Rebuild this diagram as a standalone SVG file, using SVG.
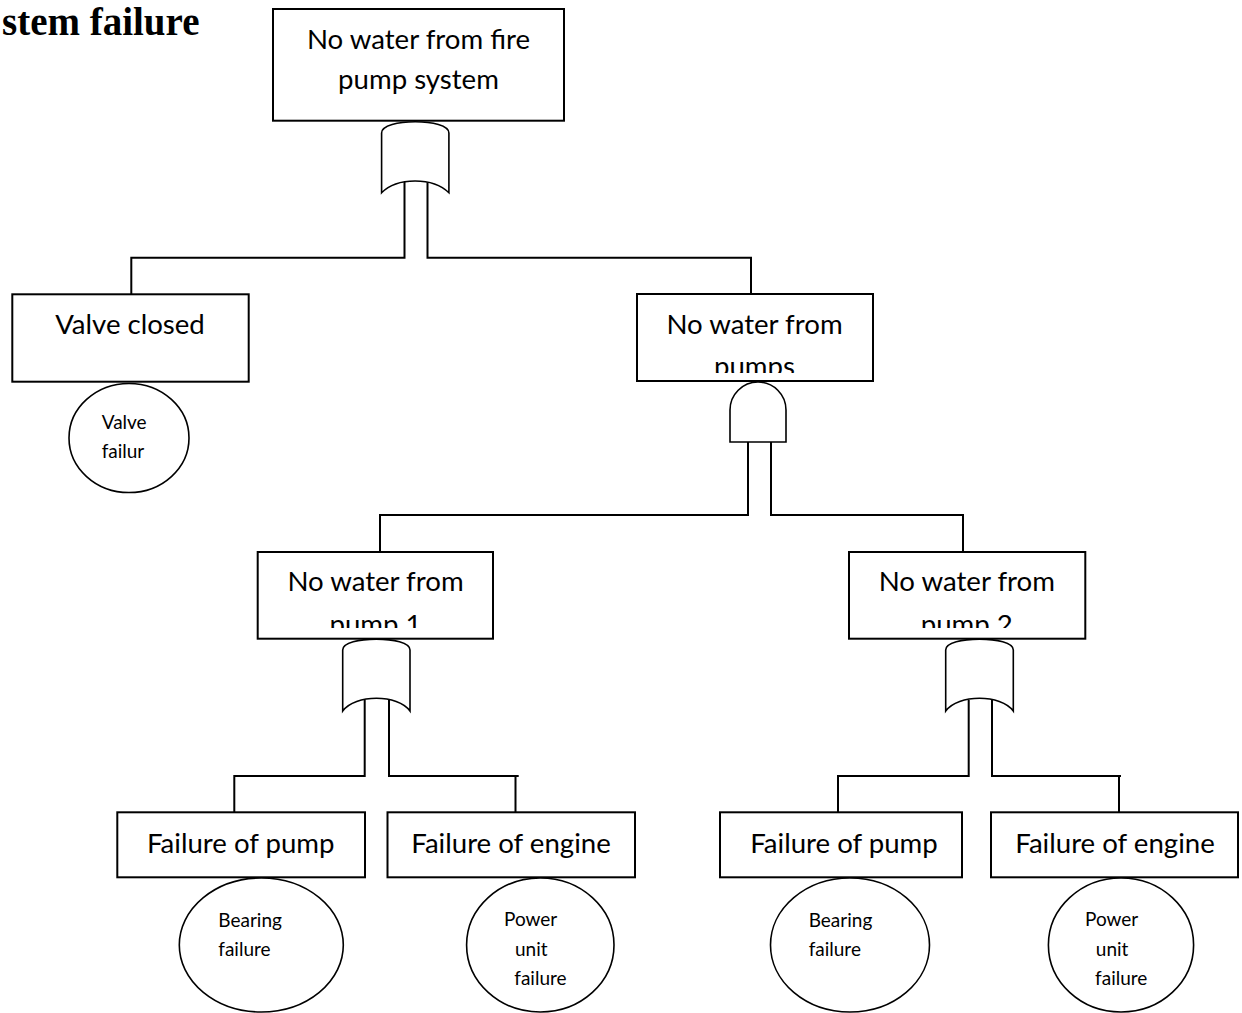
<svg xmlns="http://www.w3.org/2000/svg" width="1242" height="1013" viewBox="0 0 1242 1013">
<style>
.box{fill:#fff;stroke:#000;stroke-width:2}
.gate{fill:#fff;stroke:#000;stroke-width:1.6}
.ev{fill:#fff;stroke:#000;stroke-width:1.6}
.con{fill:none;stroke:#000;stroke-width:2}
.t{font-family:Lato,"Liberation Sans",sans-serif;font-size:27.6px;fill:#000;text-anchor:middle}
.s{font-family:Lato,"Liberation Sans",sans-serif;font-size:19px;fill:#000}
.title{font-family:"Liberation Serif","Times New Roman",serif;font-size:39px;font-weight:bold;fill:#000}
</style>
<defs>
<clipPath id="cPumps"><rect x="637" y="294" width="236" height="79"/></clipPath>
<clipPath id="cP1"><rect x="258" y="552" width="235" height="76"/></clipPath>
<clipPath id="cP2"><rect x="849" y="552" width="236" height="76"/></clipPath>
</defs>
<rect width="1242" height="1013" fill="#fff"/>
<text class="title" x="2" y="35">stem failure</text>

<g id="connectors">
<path class="con" d="M404.5,181 V257.7 H131.3 V294.5"/>
<path class="con" d="M427.5,181 V257.7 H751 V294"/>
<path class="con" d="M748,442 V515 H380 V552"/>
<path class="con" d="M771,442 V515 H963 V552"/>
<path class="con" d="M364.7,700 V776 H234.3 V812"/>
<path class="con" d="M389,700 V776 H518.7 M515.5,776 V812"/>
<path class="con" d="M968.7,700 V776 H838 V812"/>
<path class="con" d="M992,700 V776 H1121 M1119,776 V812"/>
</g>

<g id="top-event">
<rect class="box" x="273" y="9" width="291" height="111.7"/>
<text class="t" x="418.5" y="48.5">No water from fire</text>
<text class="t" x="418.5" y="89">pump system</text>
</g>
<g id="gate-or-top">
<path class="gate" d="M381.6,192.7 V133 C381.6,118 448.9,118 448.9,133 V192.7 C433,177 397,177 381.6,192.7 Z"/>
</g>

<g id="valve-closed">
<rect class="box" x="12.3" y="294.3" width="236.4" height="87.4"/>
<text class="t" x="130" y="333.5">Valve closed</text>
</g>
<g id="valve-failure">
<ellipse class="ev" cx="129" cy="438" rx="60" ry="54.5"/>
<text class="s" x="101.7" y="428.7">Valve</text>
<text class="s" x="101.7" y="458.3">failur</text>
</g>

<g id="no-water-pumps">
<rect class="box" x="637" y="294" width="236" height="87"/>
<g clip-path="url(#cPumps)">
<text class="t" x="754.5" y="333.5">No water from</text>
<text class="t" x="754.5" y="376">pumps</text>
</g>
</g>
<g id="gate-and">
<path class="gate" d="M730,442 V410 A28,28 0 0 1 786,410 V442 Z"/>
</g>

<g id="no-water-pump1">
<rect class="box" x="257.7" y="552" width="235.3" height="86.7"/>
<g clip-path="url(#cP1)">
<text class="t" x="375.5" y="591">No water from</text>
<text class="t" x="375.5" y="634">pump 1</text>
</g>
</g>
<g id="gate-or-pump1">
<path class="gate" d="M342.7,711 V650 C342.7,635.5 410,635.5 410,650 V711 C398,694 355,694 342.7,711 Z"/>
</g>

<g id="no-water-pump2">
<rect class="box" x="849" y="552" width="236.3" height="86.7"/>
<g clip-path="url(#cP2)">
<text class="t" x="966.8" y="591">No water from</text>
<text class="t" x="966.8" y="634">pump 2</text>
</g>
</g>
<g id="gate-or-pump2">
<path class="gate" d="M945.7,711 V650 C945.7,635.5 1013.3,635.5 1013.3,650 V711 C1001,694 958,694 945.7,711 Z"/>
</g>

<g id="failure-pump1">
<rect class="box" x="117.3" y="812.3" width="247.7" height="65"/>
<text class="t" x="240.7" y="852.5">Failure of pump</text>
</g>
<g id="failure-engine1">
<rect class="box" x="387.5" y="812.3" width="247.5" height="65"/>
<text class="t" x="511" y="852.5">Failure of engine</text>
</g>
<g id="failure-pump2">
<rect class="box" x="720" y="812.3" width="242" height="65"/>
<text class="t" x="844" y="852.5">Failure of pump</text>
</g>
<g id="failure-engine2">
<rect class="box" x="991" y="812.3" width="247" height="65"/>
<text class="t" x="1115" y="852.5">Failure of engine</text>
</g>

<g id="bearing-failure1">
<ellipse class="ev" cx="261.3" cy="945" rx="82" ry="67"/>
<text class="s" x="218.3" y="926.7">Bearing</text>
<text class="s" x="218.3" y="955.7">failure</text>
</g>
<g id="power-unit-failure1">
<ellipse class="ev" cx="540.3" cy="945" rx="73.7" ry="67"/>
<text class="s" x="504" y="926.2">Power</text>
<text class="s" x="515" y="955.7">unit</text>
<text class="s" x="514.3" y="985">failure</text>
</g>
<g id="bearing-failure2">
<ellipse class="ev" cx="850" cy="945" rx="79.5" ry="67"/>
<text class="s" x="808.7" y="926.7">Bearing</text>
<text class="s" x="808.7" y="955.7">failure</text>
</g>
<g id="power-unit-failure2">
<ellipse class="ev" cx="1121" cy="945" rx="72.6" ry="67"/>
<text class="s" x="1085" y="926.2">Power</text>
<text class="s" x="1095.8" y="955.7">unit</text>
<text class="s" x="1095.1" y="985">failure</text>
</g>
</svg>
